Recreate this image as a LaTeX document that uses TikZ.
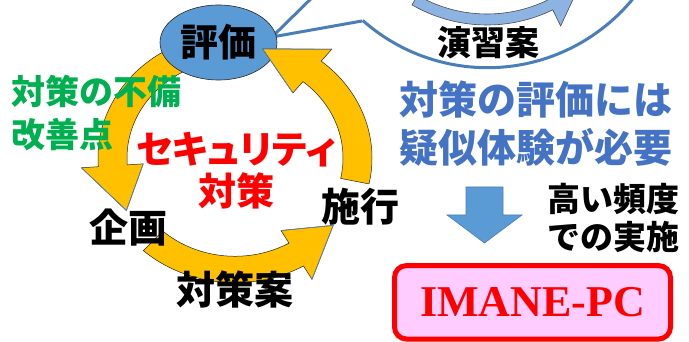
\documentclass[tikz,border=0pt]{standalone}
\usepackage{fontspec}
\setmainfont{Liberation Serif}
\newfontfamily\jp{Noto Sans CJK JP}
\newfontfamily\jpp{Noto Sans CJK JP}[RawFeature=+palt]
\usetikzlibrary{shapes.geometric}
\definecolor{ayellow}{HTML}{FFC000}
\definecolor{headblue}{HTML}{5B87C5}
\definecolor{ellblue}{HTML}{5B9BD5}
\definecolor{calloutblue}{HTML}{4A7EBB}
\definecolor{lightarrow}{HTML}{8DB3E2}
\definecolor{txtblue}{HTML}{4472C4}
\definecolor{txtgreen}{HTML}{00B050}
\definecolor{pinkfill}{HTML}{FFCCFF}
\begin{document}
\begin{tikzpicture}[x=1pt,y=-1pt,
  jt/.style={inner sep=0pt, align=center, font={\jp\bfseries\fontsize{#1}{#1}\selectfont}},
  ringarrow/.style={fill=ayellow, draw=black!85, line width=0.5pt},
  headedge/.style={draw=headblue, line width=0.6pt},
  callout/.style={draw=calloutblue, line width=3pt, line join=round},
  imbox/.style={draw=red, line width=5pt, fill=pinkfill, rounded corners=12pt, inner sep=0pt,
    font={\bfseries\fontsize{44}{44}\selectfont}, text=red}
]
\useasboundingbox (0,0) rectangle (689,342);
\clip (0,0) rectangle (689,342);

% callout outline
\draw[callout] (362,21) -- (272,37) -- (329,-19)
   arc[start angle=147.4, end angle=491.55, radius=188];

% light blue circular arrow inside the callout
\begin{scope}[shift={(487,-125)}]
  \filldraw[fill=lightarrow, draw=black!70, line width=0.6pt]
    (120:150) arc[start angle=120, end angle=64, radius=150]
    -- (64:168) -- (50:144) -- (64:121) -- (64:139)
    arc[start angle=64, end angle=120, radius=139] -- cycle;
\end{scope}

% yellow cycle arrows (first two)
\begin{scope}[shift={(235,158)}, yscale=0.91]
  \filldraw[ringarrow]
    (250:137) arc[start angle=250, end angle=176, radius=137]
    -- (176:154) -- (152:123) -- (176:92) -- (176:108)
    arc[start angle=176, end angle=250, radius=108] -- cycle;
  \draw[headedge] (176:154) -- (152:123) -- (176:92);
  \filldraw[ringarrow]
    (132:137) arc[start angle=132, end angle=60, radius=137]
    -- (60:154) -- (37:123) -- (60:92) -- (60:108)
    arc[start angle=60, end angle=132, radius=108] -- cycle;
  \draw[headedge] (60:154) -- (37:123) -- (60:92);
\end{scope}

% evaluation ellipse
\node[ellipse, draw=black!85, line width=0.6pt, fill=ellblue, minimum width=117pt,
  minimum height=75pt, inner sep=0pt] (hyoka) at (218.5,42.5) {};
\node[jt=38] (hyokatext) at (hyoka.center) {評価};

% third yellow arrow (over the ellipse)
\begin{scope}[shift={(235,158)}, yscale=0.91]
  \filldraw[ringarrow]
    (12:137) arc[start angle=12, end angle=-51, radius=137]
    -- (-51:154) -- (-77:123) -- (-51:92) -- (-51:108)
    arc[start angle=-51, end angle=12, radius=108] -- cycle;
  \draw[headedge] (-51:154) -- (-77:123) -- (-51:92);
\end{scope}

% texts
\node[jt=34, text=txtgreen, align=left, font={\jp\bfseries\fontsize{34}{42.5}\selectfont}] (fubi) at (97,113) {対策の不備\\改善点};
\node[jt=38, text=red, font={\jp\bfseries\fontsize{38}{42}\selectfont}] (sec) at (236,171) {{\jpp\bfseries セキュリティ}\\対策};
\node[jt=39] (kikaku) at (128,228) {企画};
\node[jt=39] (taisakuan) at (235,290) {対策案};
\node[jt=39] (shiko) at (360,207) {施行};
\node[jt=34] (enshu) at (488,43) {演習案};
\node[jt=39, text=txtblue, font={\jp\bfseries\fontsize{39}{48}\selectfont}] (hitsuyo) at (536,124) {対策の評価には\\疑似体験が必要};
\node[jt=33, align=left, font={\jp\bfseries\fontsize{33}{38}\selectfont}] (hindo) at (613,218) {高い頻度\\での実施};

% down block arrow
\filldraw[fill=ellblue, draw=calloutblue, line width=0.6pt]
  (466,187) -- (503,187) -- (503,215) -- (522,215) -- (484.5,243) -- (447,215) -- (466,215) -- cycle;

% IMANE-PC box
\node[imbox, minimum width=276pt, minimum height=73.5pt] (imane) at (532.5,302.3) {IMANE-PC};
\end{tikzpicture}
\end{document}
